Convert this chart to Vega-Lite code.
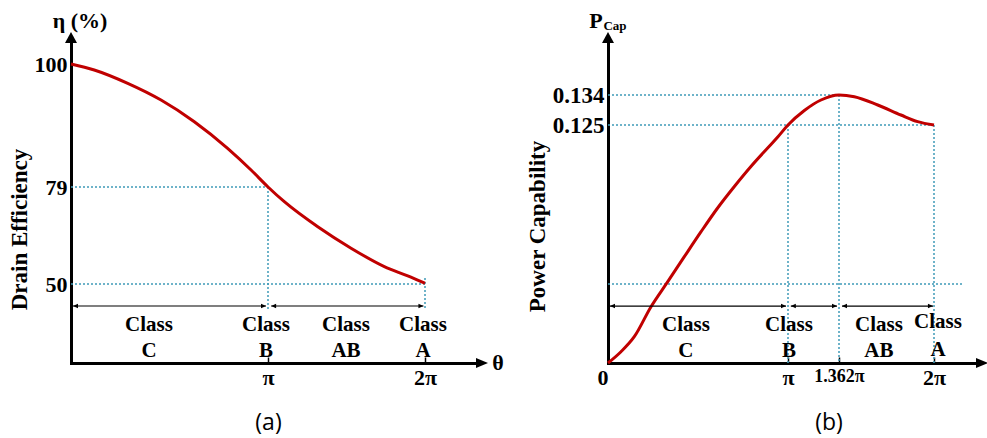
{
  "$schema": "https://vega.github.io/schema/vega-lite/v6.json",
  "padding": {"left": 8, "top": 10, "right": 0, "bottom": 4},
  "spacing": 22,
  "background": "white",
  "config": {
    "view": {"stroke": null},
    "axis": {
      "grid": false,
      "domainColor": "black",
      "domainWidth": 3,
      "domainCap": "square",
      "labelFont": "Liberation Serif",
      "labelFontWeight": "bold",
      "labelColor": "black",
      "titleFont": "Liberation Serif",
      "titleFontWeight": "bold",
      "titleColor": "black"
    },
    "title": {"font": "Open Sans", "fontSize": 23, "fontWeight": "normal", "color": "black"}
  },
  "hconcat": [
    {
      "width": 405,
      "height": 320,
      "title": {"text": "(a)", "orient": "bottom", "anchor": "middle", "dx": -5, "offset": 24},
      "encoding": {
        "x": {
          "field": "theta", "type": "quantitative",
          "scale": {"domain": [0, 1, 2, 2.325], "range": [0, 197, 354, 405], "nice": false, "zero": false},
          "axis": {"values": [1, 2], "labelExpr": "datum.value == 1 ? 'π' : '2π'", "title": null, "tickSize": -6, "tickWidth": 1.5, "tickColor": "black", "labelPadding": 10, "labelFontSize": 22}
        },
        "y": {
          "field": "eta", "type": "quantitative",
          "scale": {"domain": [30, 50, 79, 100, 103.6], "range": [320, 241, 144, 21, 0], "nice": false, "zero": false},
          "axis": {"values": [50, 79, 100], "format": "d", "title": "Drain Efficiency", "ticks": false, "tickSize": 0, "labelPadding": 4, "labelFontSize": 22, "titlePadding": 3, "titleY": 186, "titleFontSize": 23}
        }
      },
      "layer": [
        {
          "data": {"values": [
            {"theta": 0, "eta": 79, "theta2": 1, "eta2": 79},
            {"theta": 1, "eta": 79, "theta2": 1, "eta2": 43.4},
            {"theta": 0, "eta": 50, "theta2": 2, "eta2": 50},
            {"theta": 2, "eta": 51.8, "theta2": 2, "eta2": 43.4}
          ]},
          "mark": {"type": "rule", "color": "#3f9bb8", "strokeWidth": 1.5, "strokeDash": [2, 2]},
          "encoding": {"x2": {"field": "theta2"}, "y2": {"field": "eta2"}}
        },
        {
          "data": {"values": [
            {"theta": 0, "eta": 100}, {"theta": 0.118, "eta": 98.98}, {"theta": 0.288, "eta": 96.7},
            {"theta": 0.457, "eta": 93.85}, {"theta": 0.626, "eta": 90.15}, {"theta": 0.795, "eta": 85.6},
            {"theta": 0.914, "eta": 81.9}, {"theta": 1.0, "eta": 79.0}, {"theta": 1.104, "eta": 74.6},
            {"theta": 1.317, "eta": 67.1}, {"theta": 1.529, "eta": 60.7}, {"theta": 1.741, "eta": 55.2},
            {"theta": 1.89, "eta": 52.4}, {"theta": 2.0, "eta": 50.2}
          ]},
          "mark": {"type": "line", "color": "#c00000", "strokeWidth": 3, "interpolate": "monotone"}
        },
        {
          "data": {"values": [
            {"theta": 0.01, "theta2": 0.99, "eta": 44.43},
            {"theta": 1.02, "theta2": 1.99, "eta": 44.43}
          ]},
          "layer": [
            {"mark": {"type": "rule", "color": "black", "strokeWidth": 1.2}, "encoding": {"x2": {"field": "theta2"}}},
            {"mark": {"type": "point", "shape": "M0,0L1,-0.45L1,0.45Z", "filled": true, "opacity": 1, "color": "black", "size": 100, "strokeWidth": 0}}
          ]
        },
        {
          "data": {"values": [{"theta": 0.99, "eta": 44.43}, {"theta": 1.99, "eta": 44.43}]},
          "mark": {"type": "point", "shape": "M0,0L-1,-0.45L-1,0.45Z", "filled": true, "opacity": 1, "color": "black", "size": 100, "strokeWidth": 0}
        },
        {
          "data": {"values": [
            {"theta": 0.396, "eta": 39.6, "label": "Class"}, {"theta": 0.396, "eta": 33.04, "label": "C"},
            {"theta": 0.99, "eta": 39.6, "label": "Class"}, {"theta": 0.99, "eta": 33.04, "label": "B"},
            {"theta": 1.497, "eta": 39.6, "label": "Class"}, {"theta": 1.497, "eta": 33.04, "label": "AB"},
            {"theta": 1.987, "eta": 39.6, "label": "Class"}, {"theta": 1.987, "eta": 33.04, "label": "A"}
          ]},
          "mark": {"type": "text", "font": "Liberation Serif", "fontWeight": "bold", "fontSize": 21, "color": "black", "align": "center", "baseline": "middle"},
          "encoding": {"text": {"field": "label"}}
        },
        {
          "data": {"values": [{"theta": 0, "eta": 103.6}]},
          "mark": {"type": "point", "shape": "M-0.5,0L0,-0.92L0.5,0Z", "filled": true, "opacity": 1, "color": "black", "size": 576, "strokeWidth": 0}
        },
        {
          "data": {"values": [{"theta": 2.325, "eta": 30}]},
          "mark": {"type": "point", "shape": "M0,-0.42L1,0L0,0.42Z", "filled": true, "opacity": 1, "color": "black", "size": 576, "strokeWidth": 0}
        },
        {
          "data": {"values": [
            {"theta": 0.046, "eta": 107.29, "label": "η (%)"},
            {"theta": 2.465, "eta": 30, "label": "θ"}
          ]},
          "mark": {"type": "text", "font": "Liberation Serif", "fontWeight": "bold", "fontSize": 22, "color": "black", "align": "center", "baseline": "middle"},
          "encoding": {"text": {"field": "label"}}
        }
      ]
    },
    {
      "width": 368,
      "height": 320,
      "title": {"text": "(b)", "orient": "bottom", "anchor": "middle", "dx": 37, "offset": 24},
      "encoding": {
        "x": {
          "field": "theta", "type": "quantitative",
          "scale": {"domain": [0, 1, 1.362, 2, 2.282], "range": [0, 180, 231, 326, 368], "nice": false, "zero": false},
          "axis": {
            "values": [0, 1, 1.362, 2],
            "labelExpr": "datum.value == 0 ? '0' : datum.value == 1 ? 'π' : datum.value == 2 ? '2π' : '1.362π'",
            "title": null, "tickSize": -6, "tickWidth": 1.5, "tickColor": "black", "labelPadding": 10,
            "labelFontSize": {"condition": {"test": "datum.value == 1.362", "value": 18}, "value": 22},
            "labelAlign": {"condition": {"test": "datum.value == 0", "value": "right"}, "value": "center"}
          }
        },
        "y": {
          "field": "pcap", "type": "quantitative",
          "scale": {"domain": [0, 0.125, 0.134, 0.1496], "range": [320, 82, 52, 0], "nice": false, "zero": false},
          "axis": {"values": [0.125, 0.134], "format": ".3f", "title": "Power Capability", "ticks": false, "tickSize": 0, "labelPadding": 4, "labelFontSize": 23, "titlePadding": 3, "titleY": 183, "titleFontSize": 23}
        }
      },
      "layer": [
        {
          "data": {"values": [
            {"theta": 0, "pcap": 0.134, "theta2": 1.362, "pcap2": 0.134},
            {"theta": 0, "pcap": 0.125, "theta2": 2, "pcap2": 0.125},
            {"theta": 1, "pcap": 0.125, "theta2": 1, "pcap2": 0},
            {"theta": 1.362, "pcap": 0.134, "theta2": 1.362, "pcap2": 0},
            {"theta": 2, "pcap": 0.125, "theta2": 2, "pcap2": 0},
            {"theta": 0, "pcap": 0.0415, "theta2": 2.195, "pcap2": 0.0415}
          ]},
          "mark": {"type": "rule", "color": "#3f9bb8", "strokeWidth": 1.5, "strokeDash": [2, 2]},
          "encoding": {"x2": {"field": "theta2"}, "y2": {"field": "pcap2"}}
        },
        {
          "data": {"values": [
            {"theta": 0, "pcap": 0}, {"theta": 0.072, "pcap": 0.00593}, {"theta": 0.146, "pcap": 0.01381},
            {"theta": 0.239, "pcap": 0.02957}, {"theta": 0.332, "pcap": 0.0427}, {"theta": 0.424, "pcap": 0.05583},
            {"theta": 0.517, "pcap": 0.06896}, {"theta": 0.609, "pcap": 0.08141}, {"theta": 0.702, "pcap": 0.0927},
            {"theta": 0.794, "pcap": 0.1032}, {"theta": 0.887, "pcap": 0.11292}, {"theta": 0.943, "pcap": 0.1187},
            {"theta": 1.0, "pcap": 0.125}, {"theta": 1.116, "pcap": 0.12935}, {"theta": 1.234, "pcap": 0.1325},
            {"theta": 1.362, "pcap": 0.134}, {"theta": 1.465, "pcap": 0.13349}, {"theta": 1.622, "pcap": 0.131},
            {"theta": 1.778, "pcap": 0.128}, {"theta": 1.89, "pcap": 0.126}, {"theta": 2.0, "pcap": 0.125}
          ]},
          "mark": {"type": "line", "color": "#c00000", "strokeWidth": 3, "interpolate": "monotone"}
        },
        {
          "data": {"values": [
            {"theta": 0.011, "theta2": 0.989, "pcap": 0.0299},
            {"theta": 1.02, "theta2": 1.348, "pcap": 0.0299},
            {"theta": 1.382, "theta2": 1.993, "pcap": 0.0299}
          ]},
          "layer": [
            {"mark": {"type": "rule", "color": "black", "strokeWidth": 1.2}, "encoding": {"x2": {"field": "theta2"}}},
            {"mark": {"type": "point", "shape": "M0,0L1,-0.45L1,0.45Z", "filled": true, "opacity": 1, "color": "black", "size": 100, "strokeWidth": 0}}
          ]
        },
        {
          "data": {"values": [{"theta": 0.989, "pcap": 0.0299}, {"theta": 1.348, "pcap": 0.0299}, {"theta": 1.993, "pcap": 0.0299}]},
          "mark": {"type": "point", "shape": "M0,0L-1,-0.45L-1,0.45Z", "filled": true, "opacity": 1, "color": "black", "size": 100, "strokeWidth": 0}
        },
        {
          "data": {"values": [
            {"theta": 0.433, "pcap": 0.02, "label": "Class"}, {"theta": 0.433, "pcap": 0.0063, "label": "C"},
            {"theta": 1.007, "pcap": 0.02, "label": "Class"}, {"theta": 1.007, "pcap": 0.0063, "label": "B"},
            {"theta": 1.63, "pcap": 0.02, "label": "Class"}, {"theta": 1.63, "pcap": 0.0063, "label": "AB"},
            {"theta": 2.027, "pcap": 0.0215, "label": "Class"}, {"theta": 2.027, "pcap": 0.0068, "label": "A"}
          ]},
          "mark": {"type": "text", "font": "Liberation Serif", "fontWeight": "bold", "fontSize": 21, "color": "black", "align": "center", "baseline": "middle"},
          "encoding": {"text": {"field": "label"}}
        },
        {
          "data": {"values": [{"theta": 0, "pcap": 0.1496}]},
          "mark": {"type": "point", "shape": "M-0.5,0L0,-0.92L0.5,0Z", "filled": true, "opacity": 1, "color": "black", "size": 576, "strokeWidth": 0}
        },
        {
          "data": {"values": [{"theta": 2.282, "pcap": 0}]},
          "mark": {"type": "point", "shape": "M0,-0.42L1,0L0,0.42Z", "filled": true, "opacity": 1, "color": "black", "size": 576, "strokeWidth": 0}
        },
        {
          "data": {"values": [{"theta": -0.067, "pcap": 0.1561, "label": "P"}]},
          "mark": {"type": "text", "font": "Liberation Serif", "fontWeight": "bold", "fontSize": 22, "color": "black", "align": "center", "baseline": "middle"},
          "encoding": {"text": {"field": "label"}}
        },
        {
          "data": {"values": [{"theta": 0.039, "pcap": 0.1547, "label": "Cap"}]},
          "mark": {"type": "text", "font": "Liberation Serif", "fontWeight": "bold", "fontSize": 13, "color": "black", "align": "center", "baseline": "middle"},
          "encoding": {"text": {"field": "label"}}
        }
      ]
    }
  ]
}
